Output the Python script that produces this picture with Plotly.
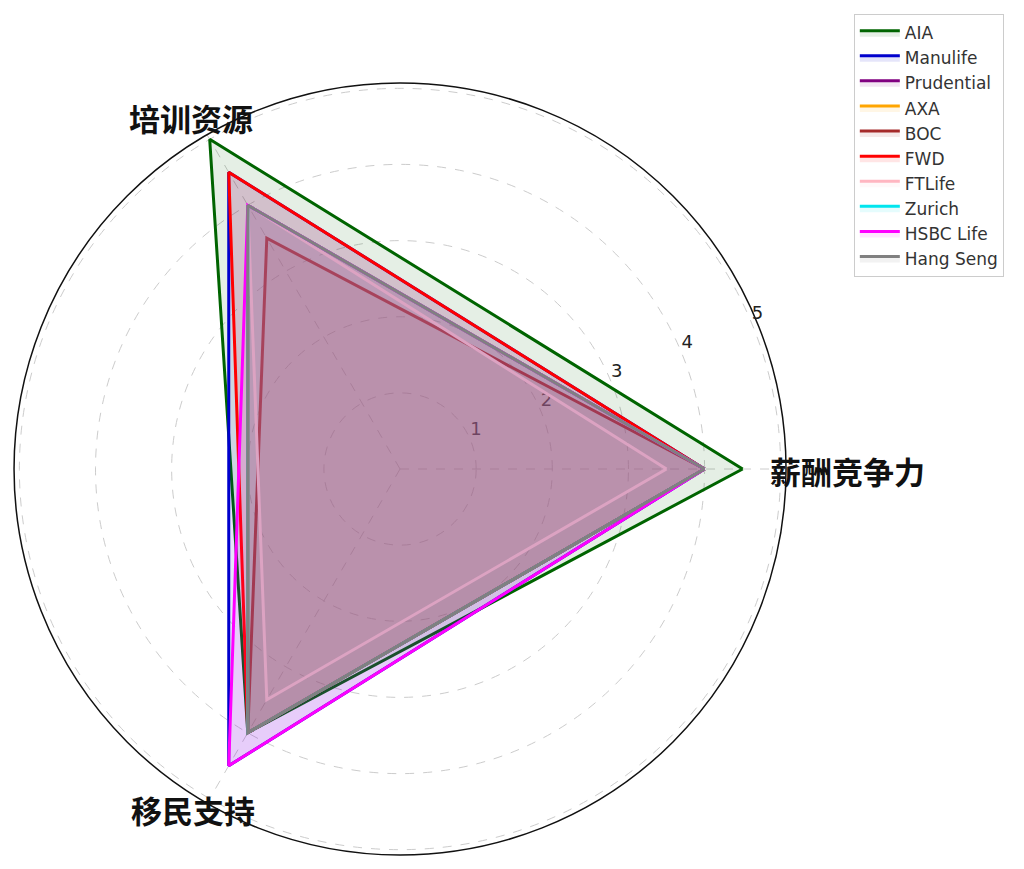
import plotly.graph_objects as go

# radar axes (counterclockwise from 0 deg)
categories = ["薪酬竞争力", "培训资源", "移民支持"]

companies = ["AIA", "Manulife", "Prudential", "AXA", "BOC",
             "FWD", "FTLife", "Zurich", "HSBC Life", "Hang Seng"]

aia = [4.5, 5.0, 4.0]
manulife = [4.0, 4.5, 4.5]
prudential = [4.0, 4.0, 4.0]
axa = [4.0, 4.0, 4.0]
boc = [4.0, 3.5, 4.0]
fwd = [4.0, 4.5, 4.0]
ftlife = [3.5, 4.0, 3.5]
zurich = [4.0, 4.0, 4.0]
hsbc_life = [4.0, 4.0, 4.5]
hang_seng = [4.0, 4.0, 4.0]

radial_ticks = [1, 2, 3, 4, 5]

series = [aia, manulife, prudential, axa, boc, fwd, ftlife, zurich, hsbc_life, hang_seng]
colors = ["#006400", "#0000cd", "#800080", "#ffa500", "#a52a2a",
          "#ff0000", "#ffb6c1", "#00e5ee", "#ff00ff", "#808080"]

# one spoke per category, evenly spaced
angles = [i * 360 / len(categories) for i in range(len(categories))]
RLABEL_ANGLE = 22.5


def rgba(hex_color, alpha):
    h = hex_color.lstrip("#")
    r, g, b = int(h[0:2], 16), int(h[2:4], 16), int(h[4:6], 16)
    return f"rgba({r},{g},{b},{alpha})"


fig = go.Figure()

# radial tick labels first so the fills sit on top of them (like matplotlib)
fig.add_trace(go.Scatterpolar(
    r=radial_ticks,
    theta=[RLABEL_ANGLE] * len(radial_ticks),
    mode="text",
    text=[str(t) for t in radial_ticks],
    textposition="top right",
    textfont=dict(family="DejaVu Sans", size=18, color="#222222"),
    showlegend=False,
    hoverinfo="skip",
))

for name, vals, col in zip(companies, series, colors):
    fig.add_trace(go.Scatterpolar(
        r=vals + vals[:1],
        theta=angles + angles[:1],
        name=name,
        mode="lines",
        line=dict(color=col, width=3),
        fill="toself",
        fillcolor=rgba(col, 0.1),
    ))

# category labels placed like the reference
label_pos = [(0.820, 0.468), (0.1787, 0.874), (0.181, 0.078)]
for cat, (x, y) in zip(categories, label_pos):
    fig.add_annotation(
        x=x, y=y, xref="paper", yref="paper", text=f"<b>{cat}</b>",
        showarrow=False, xanchor="center", yanchor="middle",
        font=dict(family="Noto Sans CJK SC", size=31, color="#111111"),
    )

fig.update_layout(
    width=1024, height=869,
    margin=dict(l=0, r=0, t=0, b=0),
    paper_bgcolor="white",
    font=dict(family="DejaVu Sans", color="#222222"),
    polar=dict(
        domain=dict(x=[0.0059, 0.7598], y=[0.0253, 0.9137]),
        bgcolor="white",
        radialaxis=dict(
            range=[0, 5.07], tickvals=radial_ticks,
            angle=RLABEL_ANGLE, showticklabels=False,
            showline=False, ticks="", layer="below traces",
            gridcolor="#cccccc", griddash="dash", gridwidth=1,
        ),
        angularaxis=dict(
            rotation=0, direction="counterclockwise",
            tickvals=angles, showticklabels=False, ticks="",
            layer="below traces",
            showline=True, linecolor="#111111", linewidth=1.5,
            gridcolor="#cccccc", griddash="dash", gridwidth=1,
        ),
    ),
    legend=dict(
        x=0.826, y=0.993, xanchor="left", yanchor="top",
        bordercolor="#cccccc", borderwidth=1, bgcolor="white",
        font=dict(family="DejaVu Sans", size=17, color="#333333"),
        tracegroupgap=0, itemwidth=40,
    ),
)

fig.write_html("out.html")
